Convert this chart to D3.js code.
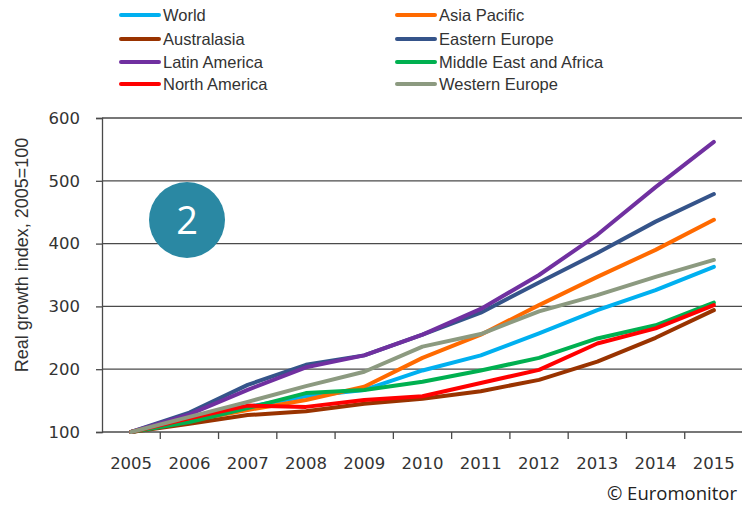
<!DOCTYPE html>
<html>
<head>
<meta charset="utf-8">
<script src="https://cdn.jsdelivr.net/npm/d3@7"></script>
<style>
  html, body { margin: 0; padding: 0; background: #fff; }
  svg { display: block; }
  text { font-family: "Liberation Sans", Arial, sans-serif; }
</style>
</head>
<body>
<svg id="chart" width="742" height="506"></svg>
<script>
// Real growth index by region, 2005 = 100
const years = ["2005","2006","2007","2008","2009","2010","2011","2012","2013","2014","2015"];
const world          = [100,120,140,157,167,198,222,257,294,326,363];
const asiaPacific    = [100,118,135,151,172,218,255,302,347,390,438];
const australasia    = [100,113,127,133,145,153,165,183,212,250,294];
const easternEurope  = [100,131,175,207,222,255,290,338,385,435,479];
const latinAmerica   = [100,128,167,203,222,255,296,350,414,490,562];
const middleEastAfr  = [100,116,138,162,167,180,198,218,249,270,306];
const northAmerica   = [100,122,142,140,151,157,178,199,241,265,302];
const westernEurope  = [100,124,148,173,196,236,256,292,318,347,374];
const yTicks = [100,200,300,400,500,600];

const seriesNames  = ["World","Asia Pacific","Australasia","Eastern Europe","Latin America","Middle East and Africa","North America","Western Europe"];
const seriesValues = [world, asiaPacific, australasia, easternEurope, latinAmerica, middleEastAfr, northAmerica, westernEurope];
const seriesColors = ["#00b0f0","#ff6a00","#993300","#35548a","#7030a0","#00b050","#ff0000","#8c9a80"];

const svg = d3.select("#chart");
const plot = { left: 102, right: 743, top: 118, bottom: 432 };
const tickFont = '"DejaVu Sans", Verdana, sans-serif';

const x = d3.scaleBand().domain(years).range([plot.left, plot.right]);
const y = d3.scaleLinear().domain([100, 600]).range([plot.bottom, plot.top]);

// horizontal gridlines
svg.append("g").selectAll("line").data(yTicks.slice(1)).join("line")
  .attr("x1", plot.left).attr("x2", plot.right)
  .attr("y1", d => y(d)).attr("y2", d => y(d))
  .attr("stroke", "#4a4a4a").attr("stroke-width", 1.3);

// y axis
const yAxis = svg.append("g").attr("transform", `translate(${plot.left},0)`)
  .call(d3.axisLeft(y).tickValues(yTicks).tickSize(6).tickPadding(16));
yAxis.select(".domain").attr("stroke", "#4a4a4a").attr("stroke-width", 1.3);
yAxis.selectAll(".tick line").attr("stroke", "#4a4a4a").attr("stroke-width", 1.3);
yAxis.selectAll(".tick text").attr("font-size", 16.5).attr("fill", "#333")
  .style("font-family", tickFont);

// x axis: ticks sit between the year categories
const xAxisG = svg.append("g");
xAxisG.append("line").attr("x1", plot.left).attr("x2", plot.right)
  .attr("y1", plot.bottom).attr("y2", plot.bottom)
  .attr("stroke", "#4a4a4a").attr("stroke-width", 1.3);
xAxisG.selectAll("line.tk").data(years.slice(1)).join("line").attr("class", "tk")
  .attr("x1", d => x(d)).attr("x2", d => x(d))
  .attr("y1", plot.bottom).attr("y2", plot.bottom + 7)
  .attr("stroke", "#4a4a4a").attr("stroke-width", 1.3);
xAxisG.selectAll("text").data(years).join("text")
  .attr("x", d => x(d) + x.bandwidth() / 2).attr("y", 469)
  .attr("text-anchor", "middle").attr("font-size", 16.5).attr("fill", "#333")
  .style("font-family", tickFont)
  .text(d => d);

// y axis title
svg.append("text")
  .attr("transform", "translate(28,255) rotate(-90)")
  .attr("text-anchor", "middle").attr("font-size", 18).attr("fill", "#333")
  .text("Real growth index, 2005=100");

// series lines
const line = d3.line()
  .x((d, i) => x(years[i]) + x.bandwidth() / 2)
  .y(d => y(d));
svg.append("g").selectAll("path").data(seriesValues).join("path")
  .attr("d", d => line(d))
  .attr("fill", "none")
  .attr("stroke", (d, i) => seriesColors[i])
  .attr("stroke-width", 4)
  .attr("stroke-linejoin", "round")
  .attr("stroke-linecap", "round");

// legend, two columns
const legendRows = [15, 39, 62, 84];
const legend = svg.append("g").selectAll("g").data(seriesNames).join("g")
  .attr("transform", (d, i) => {
    const col = i % 2, row = Math.floor(i / 2);
    return `translate(${col === 0 ? 121 : 397},${legendRows[row]})`;
  });
legend.append("line").attr("x1", 0).attr("x2", 38).attr("y1", 0).attr("y2", 0)
  .attr("stroke", (d, i) => seriesColors[i]).attr("stroke-width", 4)
  .attr("stroke-linecap", "round");
legend.append("text").attr("x", 42).attr("y", 0).attr("dy", "0.35em")
  .attr("font-size", 16.5).attr("fill", "#333").text(d => d);

// numbered badge
svg.append("circle").attr("cx", 187).attr("cy", 220).attr("r", 38).attr("fill", "#2a88a3");
svg.append("text").attr("x", 187).attr("y", 220).attr("dy", "0.36em")
  .attr("text-anchor", "middle").attr("font-size", 38).attr("fill", "#fff")
  .style("font-family", '"Open Sans", "Noto Sans", sans-serif')
  .text("2");

// source note
svg.append("text").attr("x", 737).attr("y", 494).attr("dy", "0.35em")
  .attr("text-anchor", "end").attr("font-size", 18.5).attr("fill", "#222")
  .style("font-family", '"Open Sans", "Noto Sans", sans-serif')
  .text("© Euromonitor");
</script>
</body>
</html>
